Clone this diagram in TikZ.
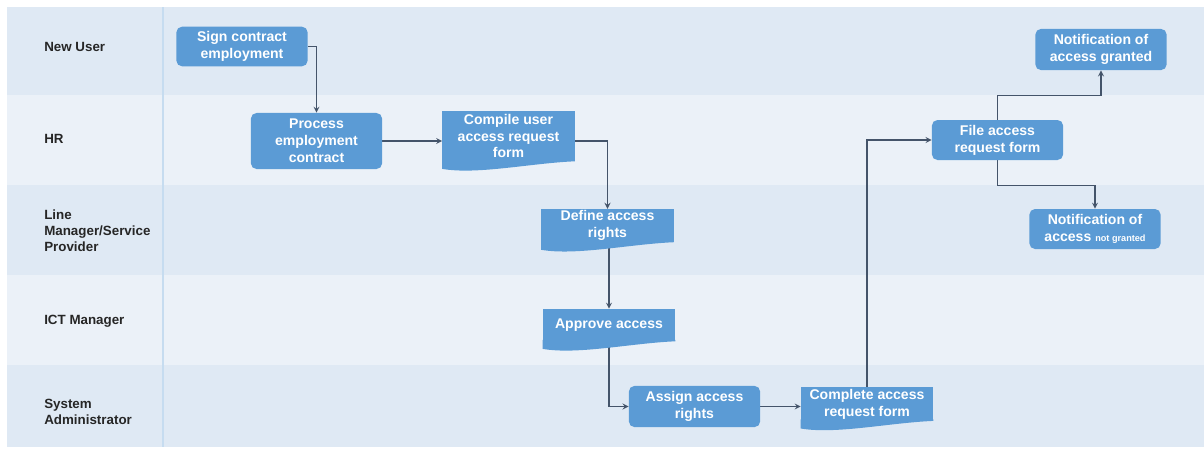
\documentclass[tikz,border=0pt]{standalone}
\usepackage{fontspec}
\setmainfont{Liberation Sans}
\usetikzlibrary{backgrounds}
\definecolor{boxblue}{HTML}{5B9BD5}
\definecolor{lanedark}{HTML}{DFE9F4}
\definecolor{lanelight}{HTML}{EBF1F8}
\definecolor{arrowgray}{HTML}{44546A}
\definecolor{labelgray}{HTML}{262626}
\begin{document}
\begin{tikzpicture}[x=0.025cm,y=-0.025cm,>=stealth,
    stepbox/.style={rectangle,rounded corners=4pt,fill=boxblue,text=white,align=center,
      minimum width=3.28cm,inner sep=1pt,font=\fontsize{10}{12}\selectfont\bfseries},
    docbox/.style={rectangle,fill=boxblue,text=white,align=center,
      minimum width=3.3cm,inner sep=1pt,font=\fontsize{10}{12}\selectfont\bfseries},
    lane/.style={anchor=west,align=left,text=labelgray,inner sep=0pt,
      font=\fontsize{9.5}{11.5}\selectfont\bfseries},
    flow/.style={->,draw=arrowgray,line width=0.9pt}]
  \useasboundingbox (0,0) rectangle (1204,450);
  % swimlanes
  \begin{scope}[on background layer]
    \fill[lanedark] (7,7) rectangle (1204,95);
    \fill[lanelight] (7,95) rectangle (1204,185);
    \fill[lanedark] (7,185) rectangle (1204,275);
    \fill[lanelight] (7,275) rectangle (1204,365);
    \fill[lanedark] (7,365) rectangle (1204,447);
    \draw[line width=1.4pt,color=boxblue!35] (163,7) -- (163,447);
  \end{scope}
  \node[lane] (newuser) at (44,47) {New User};
  \node[lane] (hr) at (44,139) {HR};
  \node[lane] (linemgr) at (44,231) {Line\\Manager/Service\\Provider};
  \node[lane] (ict) at (44,321) {ICT Manager};
  \node[lane] (sysadm) at (44,412) {System\\Administrator};
  % steps
  \node[stepbox,minimum height=0.99cm] (sign) at (242,46.5) {Sign contract\\employment};
  \node[stepbox,minimum height=1.4cm] (proc) at (316.5,141) {Process\\employment\\contract};
  \node[docbox,minimum height=1.25cm] (compile) at (508.5,136) {Compile user\\access request\\form};
  \node[docbox,minimum height=0.78cm] (define) at (607.5,225.5) {Define access\\rights};
  \node[docbox,minimum height=0.8cm] (approve) at (609,325) {Approve access};
  \node[stepbox,minimum height=1.03cm] (assign) at (694.5,406.5) {Assign access\\rights};
  \node[docbox,minimum height=0.83cm] (complete) at (867,404) {Complete access\\request form};
  \node[stepbox,minimum height=1cm] (file) at (997.5,140) {File access\\request form};
  \node[stepbox,minimum height=1.03cm] (granted) at (1101,49.5) {Notification of\\access granted};
  \node[stepbox,minimum height=1cm] (notgranted) at (1095,229) {Notification of\\access {\fontsize{6.5}{8}\selectfont not granted}};
  % arrows
  \begin{scope}[on background layer]
    \draw[flow] (sign.east) -| (proc.north);
    \draw[flow] (proc.east) -- (proc.east -| compile.west);
    \draw[flow] (compile.east |- proc.east) -| (define.north);
    \draw[flow] (define.south -| approve.north) -- (approve.north);
    \draw[flow] (approve.south) |- (assign.west);
    \draw[flow] (assign.east) -- (assign.east -| complete.west);
    \draw[flow] (complete.north) |- (file.west);
    \draw[flow] (file.north) -- ++(0,-24) -| (granted.south);
    \draw[flow] (file.south) -- ++(0,25) -| (notgranted.north);
    % wavy bottoms of the forms
    \foreach \n in {compile,define,approve,complete}
      \fill[boxblue] ([yshift=1pt]\n.south west) -- ++(0,9) .. controls +(35,6) and +(-45,2) .. (\n.south east) -- ([yshift=1pt]\n.south east) -- cycle;
  \end{scope}
\end{tikzpicture}
\end{document}
